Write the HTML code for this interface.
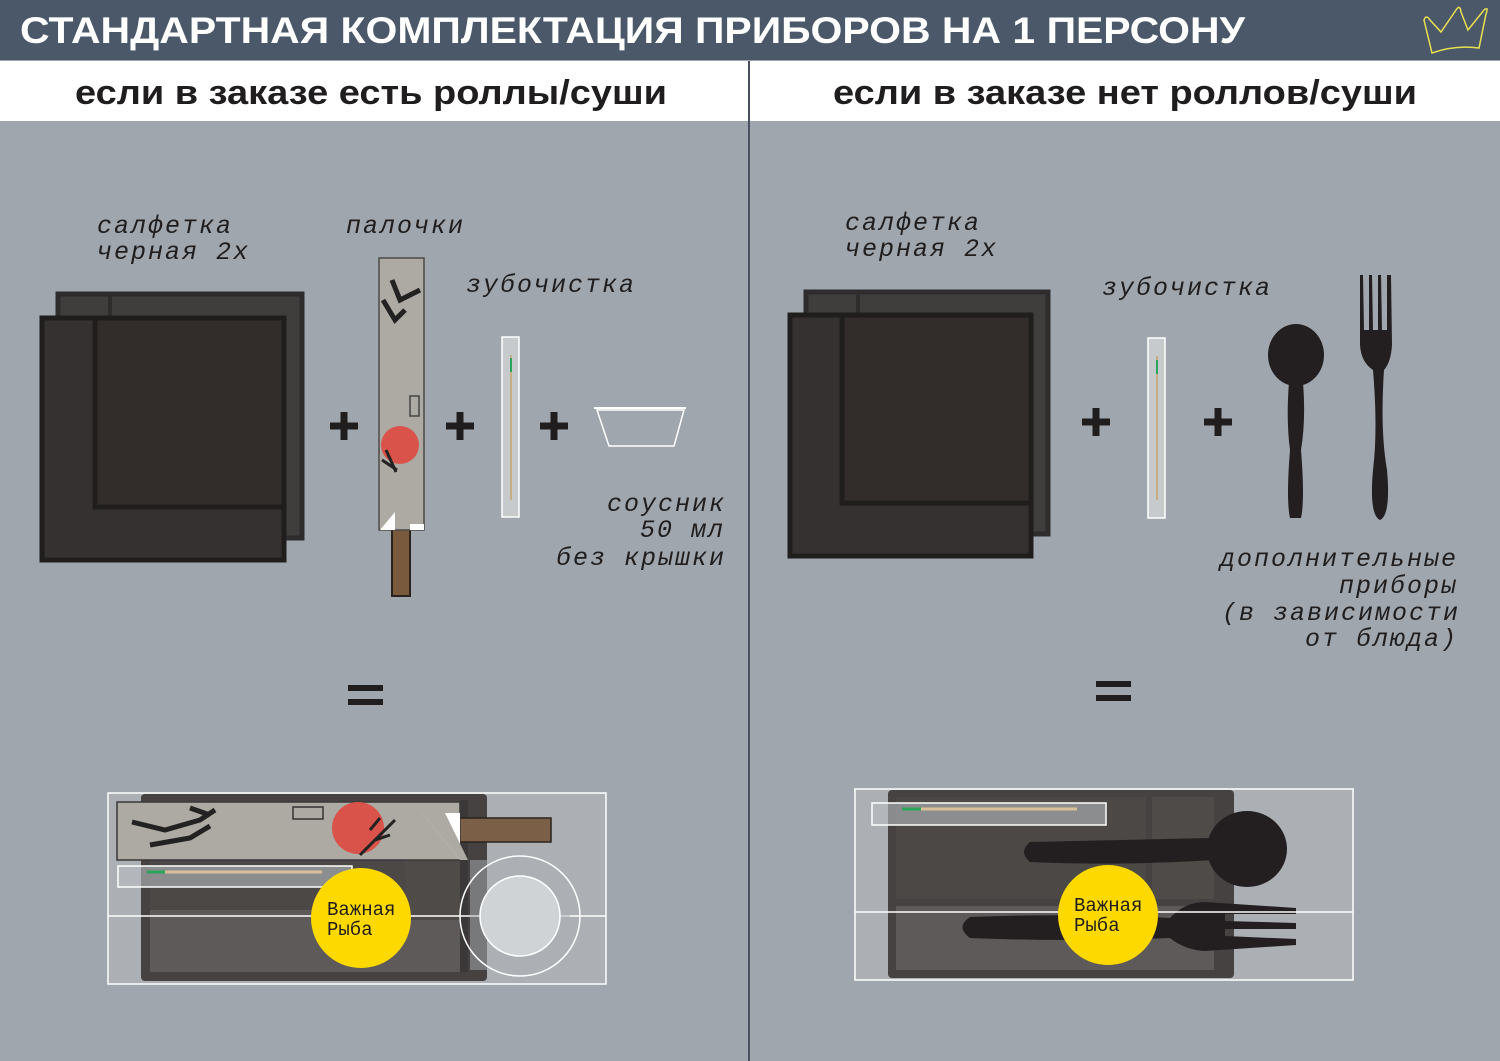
<!DOCTYPE html>
<html><head><meta charset="utf-8"><style>
html,body{margin:0;padding:0;background:#a0a6ad;}
svg{display:block}
.h{font-family:"Liberation Sans",sans-serif;font-weight:bold;}
.l{font-family:"Liberation Mono",monospace;font-style:italic;font-size:25px;fill:#1f1d1d;letter-spacing:2px}
.y{font-family:"Liberation Mono",monospace;font-size:19px;fill:#1f1d1d}
</style></head><body>
<svg width="1500" height="1061" viewBox="0 0 1500 1061" xmlns="http://www.w3.org/2000/svg">
<defs>
<g id="plus"><rect x="-14" y="-3.5" width="28" height="7" fill="#1f1d1d"/><rect x="-3.5" y="-14" width="7" height="28" fill="#1f1d1d"/></g>
</defs>
<rect width="1500" height="1061" fill="#a0a6ad"/>
<rect width="1500" height="60" fill="#4a5869"/>
<text x="20" y="43" class="h" font-size="37" fill="#fff" textLength="1225" lengthAdjust="spacingAndGlyphs">СТАНДАРТНАЯ КОМПЛЕКТАЦИЯ ПРИБОРОВ НА 1 ПЕРСОНУ</text>
<path d="M1424 20 Q1426 14 1430 20 L1441 32 L1456 10 Q1460 4 1461 12 L1468 30 L1484 10 Q1489 6 1486 14 L1479 48 Q1455 45 1432 53 Z" fill="none" stroke="#e8e050" stroke-width="1.5"/>
<rect y="61" width="1500" height="60" fill="#fff"/>
<rect x="748" y="61" width="2" height="1000" fill="#4a5060"/>
<text x="75" y="104" class="h" font-size="34" fill="#1f1d1d" textLength="592" lengthAdjust="spacingAndGlyphs">если в заказе есть роллы/суши</text>
<text x="833" y="104" class="h" font-size="34" fill="#1f1d1d" textLength="584" lengthAdjust="spacingAndGlyphs">если в заказе нет роллов/суши</text>

<!-- LEFT napkins -->
<rect x="58" y="294" width="244" height="244" fill="#403e3d" stroke="#2e2c2c" stroke-width="5"/>
<line x1="110" y1="296" x2="110" y2="318" stroke="#2e2c2c" stroke-width="4"/>
<rect x="42" y="318" width="242" height="242" fill="#353130" stroke="#201d1d" stroke-width="5"/>
<rect x="95" y="318" width="189" height="189" fill="#322d2b" stroke="#201d1d" stroke-width="5"/>
<text x="97" y="233" class="l">салфетка</text>
<text x="97" y="259" class="l">черная 2х</text>
<text x="346" y="233" class="l">палочки</text>
<!-- chopsticks -->
<rect x="392" y="500" width="18" height="96" fill="#7a5a3c" stroke="#2a221c" stroke-width="2"/>
<rect x="379" y="258" width="45" height="272" fill="#acaaa3" stroke="#4c4a48" stroke-width="1.5"/>
<path d="M380 530 L395 512 L395 530 Z M410 505 L410 524 L424 524 L424 530 L410 530 Z" fill="#fff"/>
<path d="M383 300 L395 320 L405 310 M392 280 L400 300 L420 290" stroke="#222" stroke-width="5" fill="none"/>
<rect x="410" y="396" width="9" height="20" fill="none" stroke="#444" stroke-width="1.5"/>
<circle cx="400" cy="445" r="19" fill="#d9534a"/>
<path d="M382 460 l15 10 M386 450 l10 22" stroke="#222" stroke-width="3"/>
<use href="#plus" x="344" y="426"/>
<use href="#plus" x="460" y="426"/>
<use href="#plus" x="554" y="426"/>
<text x="466" y="292" class="l">зубочистка</text>
<rect x="502" y="337" width="17" height="180" fill="#c6cacd" stroke="#fff" stroke-width="1.5"/>
<line x1="511" y1="355" x2="511" y2="500" stroke="#c9ad84" stroke-width="2"/>
<line x1="511" y1="358" x2="511" y2="372" stroke="#2aa55a" stroke-width="2"/>
<path d="M597 410 L684 410 L674 446 L609 446 Z" fill="none" stroke="#fff" stroke-width="1.5"/>
<line x1="594" y1="408" x2="686" y2="408" stroke="#fff" stroke-width="2"/>
<text x="607" y="511" class="l">соусник</text>
<text x="640" y="537" class="l">50 мл</text>
<text x="556" y="565" class="l">без крышки</text>
<rect x="348" y="685" width="35" height="6" fill="#1f1d1d"/><rect x="348" y="699" width="35" height="6" fill="#1f1d1d"/>

<!-- LEFT bottom -->
<rect x="108" y="793" width="498" height="191" fill="#acb0b4" stroke="#fff" stroke-width="1.5"/>
<rect x="141" y="794" width="346" height="187" rx="4" fill="#454241"/>
<rect x="150" y="860" width="316" height="60" fill="#4c4846"/>
<rect x="150" y="910" width="316" height="62" fill="#5d5a59"/>
<rect x="406" y="860" width="60" height="60" fill="#4f4b48"/>
<rect x="460" y="800" width="8" height="172" fill="#3a3838"/>
<rect x="437" y="818" width="114" height="24" fill="#7b5f47" stroke="#2a221c" stroke-width="1.5"/>
<path d="M117 802 L460 802 L460 860 L117 860 Z" fill="#acaaa3" stroke="#3a3838" stroke-width="1.5"/>
<path d="M422 813 L460 813 L460 860 Z" fill="#fff"/>
<path d="M422 813 L445 813 L468 860 L460 860 Z" fill="#acaaa3"/>
<rect x="293" y="807" width="30" height="12" fill="none" stroke="#333" stroke-width="1.5"/>
<path d="M132 822 L165 830 L200 820 L215 810 M150 845 L190 838 L210 826 M190 808 L210 815" stroke="#222" stroke-width="5" fill="none"/>
<circle cx="358" cy="828" r="26" fill="#d9534a"/>
<path d="M360 855 L395 820 M375 840 l15 -5 M370 830 l10 -12" stroke="#222" stroke-width="3"/>
<rect x="118" y="866" width="234" height="21" fill="#b8bcc0" fill-opacity=".6" stroke="#fff" stroke-width="1.5"/>
<line x1="147" y1="872" x2="322" y2="872" stroke="#d8bf9a" stroke-width="3"/>
<line x1="147" y1="872" x2="165" y2="872" stroke="#2aa55a" stroke-width="3"/>
<line x1="108" y1="916" x2="606" y2="916" stroke="#fff" stroke-width="1.5"/>
<rect x="470" y="860" width="100" height="110" fill="#acb0b4" fill-opacity=".5"/>
<circle cx="520" cy="916" r="60" fill="none" stroke="#fff" stroke-width="1.5"/>
<circle cx="520" cy="916" r="40" fill="#d0d3d6" stroke="#fff" stroke-width="1.5"/>
<circle cx="361" cy="918" r="50" fill="#fdd900"/>
<text x="327" y="915" class="y">Важная</text>
<text x="327" y="935" class="y">Рыба</text>

<!-- RIGHT napkins -->
<rect x="806" y="292" width="242" height="242" fill="#403e3d" stroke="#2e2c2c" stroke-width="5"/>
<line x1="858" y1="294" x2="858" y2="315" stroke="#2e2c2c" stroke-width="4"/>
<rect x="790" y="315" width="241" height="241" fill="#353130" stroke="#201d1d" stroke-width="5"/>
<rect x="842" y="315" width="189" height="188" fill="#322d2b" stroke="#201d1d" stroke-width="5"/>
<text x="845" y="230" class="l">салфетка</text>
<text x="845" y="256" class="l">черная 2х</text>
<text x="1102" y="295" class="l">зубочистка</text>
<rect x="1148" y="338" width="17" height="180" fill="#c6cacd" stroke="#fff" stroke-width="1.5"/>
<line x1="1157" y1="356" x2="1157" y2="500" stroke="#c9ad84" stroke-width="2"/>
<line x1="1157" y1="360" x2="1157" y2="374" stroke="#2aa55a" stroke-width="2"/>
<use href="#plus" x="1096" y="422"/>
<use href="#plus" x="1218" y="422"/>
<!-- spoon -->
<ellipse cx="1296" cy="355" rx="28" ry="31" fill="#231f20"/>
<path d="M1289 382 Q1286 420 1290 450 Q1286 500 1290 518 L1301 518 Q1305 500 1301 450 Q1306 420 1303 382 Z" fill="#231f20"/>
<!-- fork -->
<path d="M1360 275 L1363 275 L1364 330 L1369 330 L1369 275 L1372 275 L1373 330 L1378 330 L1378 275 L1381 275 L1382 330 L1387 330 L1387 275 L1391 275 L1392 345 Q1391 362 1384 370 Q1380 430 1387 470 Q1391 515 1380 520 Q1369 515 1373 470 Q1378 430 1373 370 Q1361 362 1360 345 Z" fill="#231f20"/>
<text x="1220" y="566" class="l">дополнительные</text>
<text x="1339" y="593" class="l">приборы</text>
<text x="1222" y="620" class="l">(в зависимости</text>
<text x="1305" y="646" class="l">от блюда)</text>
<rect x="1096" y="681" width="35" height="6" fill="#1f1d1d"/><rect x="1096" y="695" width="35" height="6" fill="#1f1d1d"/>

<!-- RIGHT bottom -->
<rect x="855" y="789" width="498" height="191" fill="#acb0b4" stroke="#fff" stroke-width="1.5"/>
<rect x="888" y="790" width="346" height="188" rx="4" fill="#454241"/>
<rect x="896" y="797" width="250" height="102" fill="#4c4846"/>
<rect x="1152" y="797" width="62" height="102" fill="#4f4b48"/>
<rect x="896" y="906" width="318" height="64" fill="#5d5a59"/>
<rect x="872" y="803" width="234" height="22" fill="#b8bcc0" fill-opacity=".6" stroke="#fff" stroke-width="1.5"/>
<line x1="902" y1="809" x2="1077" y2="809" stroke="#d8bf9a" stroke-width="3"/>
<line x1="902" y1="809" x2="921" y2="809" stroke="#2aa55a" stroke-width="3"/>
<ellipse cx="1247" cy="849" rx="40" ry="38" fill="#231f20"/>
<path d="M1030 842 Q1120 840 1210 838 L1215 860 Q1120 866 1030 862 Q1018 852 1030 842 Z" fill="#231f20"/>
<path d="M970 917 Q1070 913 1170 918 Q1185 902 1205 902 L1296 908 L1296 914 L1225 914 L1225 921 L1296 923 L1296 929 L1225 929 L1225 936 L1296 939 L1296 945 L1205 951 Q1185 950 1170 938 Q1070 942 970 938 Q955 927 970 917 Z" fill="#231f20"/>
<line x1="855" y1="912" x2="1353" y2="912" stroke="#fff" stroke-width="1.5"/>
<circle cx="1108" cy="915" r="50" fill="#fdd900"/>
<text x="1074" y="911" class="y">Важная</text>
<text x="1074" y="931" class="y">Рыба</text>
</svg>
</body></html>
